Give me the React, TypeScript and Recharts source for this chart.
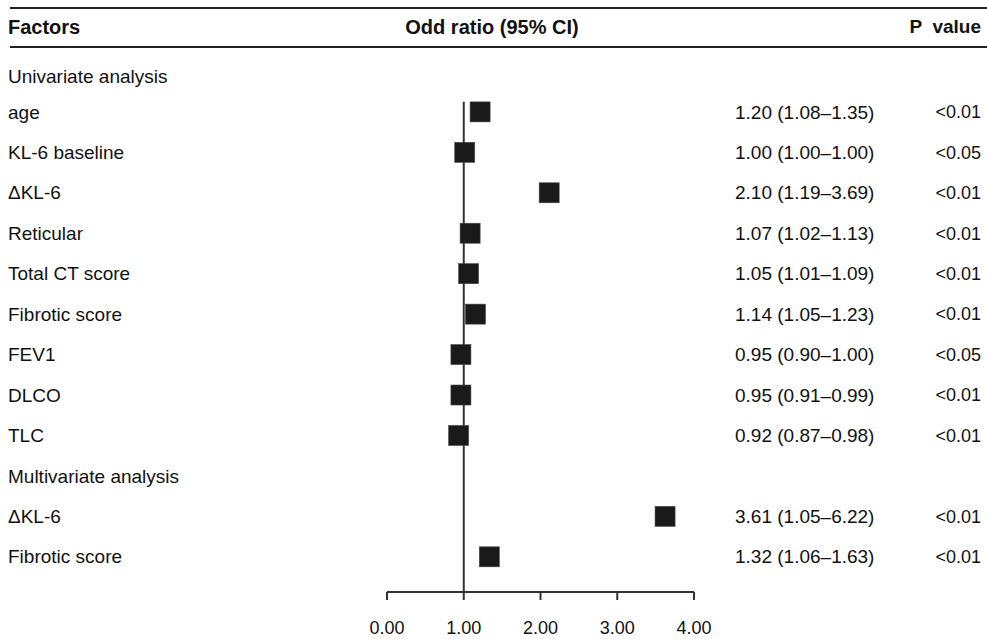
import { ReferenceLine, Scatter, ScatterChart, XAxis, YAxis } from 'recharts'

const factors = [
  'Univariate analysis',
  'age',
  'KL-6 baseline',
  'ΔKL-6',
  'Reticular',
  'Total CT score',
  'Fibrotic score',
  'FEV1',
  'DLCO',
  'TLC',
  'Multivariate analysis',
  'ΔKL-6',
  'Fibrotic score',
]
const oddsRatio = [null, 1.2, 1.0, 2.1, 1.07, 1.05, 1.14, 0.95, 0.95, 0.92, null, 3.61, 1.32]
const ciLow = [null, 1.08, 1.0, 1.19, 1.02, 1.01, 1.05, 0.9, 0.91, 0.87, null, 1.05, 1.06]
const ciHigh = [null, 1.35, 1.0, 3.69, 1.13, 1.09, 1.23, 1.0, 0.99, 0.98, null, 6.22, 1.63]
const pValues = ['', '<0.01', '<0.05', '<0.01', '<0.01', '<0.01', '<0.01', '<0.05', '<0.01', '<0.01', '', '<0.01', '<0.01']
const xTicks = [0, 1, 2, 3, 4]

const rows = factors.map((name, i) => ({ row: i, name, or: oddsRatio[i] }))
const points = rows.filter((r) => r.or !== null)

const FONT = '"Liberation Sans", Arial, Helvetica, sans-serif'
const INK = '#111'

const ciText = (i: number) =>
  oddsRatio[i] === null ? '' : `${oddsRatio[i]!.toFixed(2)} (${ciLow[i]!.toFixed(2)}–${ciHigh[i]!.toFixed(2)})`

function LeftTick({ y, payload }: any) {
  const i = payload.value as number
  return (
    <text x={8} y={y + (i === 0 ? 5 : 0)} dy="0.35em" fontSize={19} fill={INK} fontFamily={FONT}>
      {factors[i]}
    </text>
  )
}

function RightTick({ y, payload }: any) {
  const i = payload.value as number
  return (
    <g fill={INK} fontFamily={FONT}>
      <text x={735} y={y} dy="0.35em" fontSize={19}>
        {ciText(i)}
      </text>
      <text x={981} y={y} dy="0.35em" textAnchor="end" fontSize={18}>
        {pValues[i]}
      </text>
    </g>
  )
}

function Square({ cx, cy }: any) {
  return <rect x={cx - 9} y={cy - 10} width={20} height={20} fill="#1a1a1a" stroke="#444" strokeWidth={0.6} />
}

export default function App() {
  return (
    <div style={{ position: 'absolute', left: 0, top: 0, width: 987, height: 639, background: '#fff', fontFamily: FONT, color: INK }}>
      <div style={{ position: 'absolute', left: 10, right: 0, top: 7, height: 2, background: '#222' }} />
      <div style={{ position: 'absolute', left: 10, right: 0, top: 46, height: 2, background: '#222' }} />
      <div style={{ position: 'absolute', left: 8, top: 16, fontSize: 20, fontWeight: 'bold' }}>Factors</div>
      <div style={{ position: 'absolute', left: 392, width: 200, top: 16, fontSize: 20, fontWeight: 'bold', textAlign: 'center', whiteSpace: 'nowrap' }}>
        Odd ratio (95% CI)
      </div>
      <div style={{ position: 'absolute', right: 6, top: 16, fontSize: 19, fontWeight: 'bold', whiteSpace: 'pre' }}>P  value</div>
      <div style={{ position: 'absolute', left: 0, top: 0 }}>
        <ScatterChart width={987} height={639} margin={{ top: 31, right: 0, bottom: 7, left: 0 }}>
          <XAxis
            type="number"
            dataKey="or"
            domain={[0, 4]}
            ticks={xTicks}
            tickFormatter={(v: number) => v.toFixed(2)}
            axisLine={{ stroke: '#333', strokeWidth: 2 }}
            tickLine={{ stroke: '#333', strokeWidth: 2 }}
            tickSize={8}
            tick={{ fontSize: 18, fill: INK, fontFamily: FONT }}
            tickMargin={21}
            height={40}
            allowDataOverflow
          />
          <YAxis
            yAxisId="left"
            type="number"
            dataKey="row"
            domain={[-1, 12.87]}
            ticks={rows.map((r) => r.row)}
            reversed
            width={387}
            axisLine={false}
            tickLine={false}
            tick={<LeftTick />}
            interval={0}
            allowDataOverflow
          />
          <YAxis
            yAxisId="right"
            orientation="right"
            type="number"
            dataKey="row"
            domain={[-1, 12.87]}
            ticks={rows.map((r) => r.row)}
            reversed
            width={293}
            axisLine={false}
            tickLine={false}
            tick={<RightTick />}
            interval={0}
            allowDataOverflow
          />
          <ReferenceLine
            yAxisId="left"
            segment={[
              { x: 1, y: 0.75 },
              { x: 1, y: 12.87 },
            ]}
            stroke="#333"
            strokeWidth={2}
          />
          <Scatter yAxisId="left" data={points} shape={<Square />} isAnimationActive={false} />
        </ScatterChart>
      </div>
    </div>
  )
}
